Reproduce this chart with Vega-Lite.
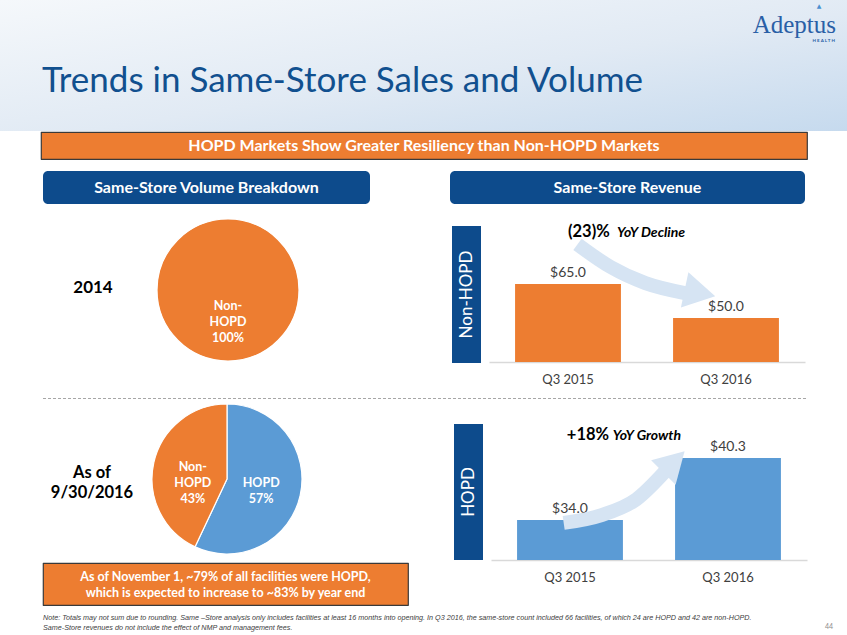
{
"$schema": "https://vega.github.io/schema/vega-lite/v6.json",
"padding": 0,
"background": "white",
"spacing": 0,
"config": {
  "view": {"stroke": null},
  "font": "Lato",
  "concat": {"spacing": 0},
  "axis": {"labelFont": "Lato", "labelFontSize": 13, "labelColor": "#404040", "domainColor": "#d9d9d9", "domainWidth": 1.5, "ticks": false, "labelPadding": 11, "grid": false}
},
"datasets": {
  "vol2014": [{"segment": "HOPD", "pct": 0, "label": ""}, {"segment": "Non-HOPD", "pct": 100, "label": "Non-\nHOPD\n100%"}],
  "vol2016": [{"segment": "HOPD", "pct": 57, "label": "HOPD\n57%"}, {"segment": "Non-HOPD", "pct": 43, "label": "Non-\nHOPD\n43%"}],
  "revNon": [{"quarter": "Q3 2015", "revenue": 65.0}, {"quarter": "Q3 2016", "revenue": 50.0}],
  "revHopd": [{"quarter": "Q3 2015", "revenue": 34.0}, {"quarter": "Q3 2016", "revenue": 40.3}],
  "arrowNon": [{"u": 0.56, "v": 82.5}, {"u": 0.77, "v": 72.5}, {"u": 0.99, "v": 65.4}, {"u": 1.24, "v": 61.0}],
  "arrowHopd": [{"u": 0.46, "v": 33.7}, {"u": 0.70, "v": 34.5}, {"u": 0.92, "v": 36.1}, {"u": 1.10, "v": 38.9}]
},
"vconcat": [
  {
    "width": 847, "height": 131,
    "data": {"values": [{}]},
    "layer": [
      {"mark": {"type": "rect", "color": {"gradient": "linear", "x1": 0, "y1": 0, "x2": 1, "y2": 1, "stops": [{"offset": 0, "color": "#f5f8fb"}, {"offset": 0.55, "color": "#e1eaf4"}, {"offset": 1, "color": "#c6daee"}]}}, "encoding": {}},
      {"mark": {"type": "text", "text": "Trends in Same-Store Sales and Volume", "x": 42, "y": 92, "align": "left", "baseline": "alphabetic", "fontSize": 35, "color": "#11508f", "font": "Lato"}},
      {"mark": {"type": "text", "text": "Adeptus", "x": 836, "y": 33, "align": "right", "baseline": "alphabetic", "font": "Liberation Serif", "fontSize": 25, "color": "#2a5fa6"}},
      {"mark": {"type": "text", "text": "H E A L T H", "x": 835, "y": 42, "align": "right", "baseline": "alphabetic", "fontSize": 4.5, "fontWeight": "bold", "color": "#2a5fa6"}},
      {"mark": {"type": "text", "text": "▲", "x": 819, "y": 8, "align": "center", "baseline": "alphabetic", "fontSize": 6, "color": "#4a8fd0", "font": "DejaVu Sans"}}
    ]
  },
  {
    "hconcat": [
      {"width": 40, "height": 27, "data": {"values": [{}]}, "mark": {"type": "point", "size": 0, "opacity": 0}, "encoding": {}},
      {"width": 766, "height": 27, "data": {"values": [{}]},
       "view": {"fill": "#ED7D31", "stroke": "#3a3a3a", "strokeWidth": 1.2, "strokeJoin": "round"},
       "mark": {"type": "text", "text": "HOPD Markets Show Greater Resiliency than Non-HOPD Markets", "align": "center", "baseline": "middle", "color": "white", "fontWeight": "bold", "fontSize": 16}}
    ],
    "spacing": 0
  },
  {"width": 847, "height": 11, "data": {"values": [{}]}, "mark": {"type": "point", "size": 0, "opacity": 0}, "encoding": {}},
  {
    "hconcat": [
      {"width": 43, "height": 33, "data": {"values": [{}]}, "mark": {"type": "point", "size": 0, "opacity": 0}, "encoding": {}},
      {"width": 327, "height": 33, "data": {"values": [{}]},
       "view": {"fill": "#0d4b8c", "cornerRadius": 5},
       "mark": {"type": "text", "text": "Same-Store Volume Breakdown", "align": "center", "baseline": "middle", "color": "white", "fontWeight": "bold", "fontSize": 16}},
      {"width": 80, "height": 33, "data": {"values": [{}]}, "mark": {"type": "point", "size": 0, "opacity": 0}, "encoding": {}},
      {"width": 355, "height": 33, "data": {"values": [{}]},
       "view": {"fill": "#0d4b8c", "cornerRadius": 5},
       "mark": {"type": "text", "text": "Same-Store Revenue", "align": "center", "baseline": "middle", "color": "white", "fontWeight": "bold", "fontSize": 16}}
    ],
    "spacing": 0
  },
  {
    "hconcat": [
      {"width": 157, "height": 193, "data": {"values": [{}]},
       "mark": {"type": "text", "text": "2014", "dx": 14.5, "dy": -12.5, "align": "center", "baseline": "middle", "fontWeight": "bold", "fontSize": 17, "color": "#000000"}},
      {
        "vconcat": [
          {"width": 142, "height": 15, "data": {"values": [{}]}, "mark": {"type": "point", "size": 0, "opacity": 0}, "encoding": {}},
          {
            "width": 142, "height": 142,
            "data": {"name": "vol2014"},
            "layer": [
              {"mark": {"type": "arc", "stroke": "white", "strokeWidth": 1.2, "strokeJoin": "round", "clip": true},
               "encoding": {
                 "theta": {"field": "pct", "type": "quantitative", "stack": true},
                 "color": {"field": "segment", "type": "nominal", "scale": {"domain": ["HOPD", "Non-HOPD"], "range": ["#5B9BD5", "#ED7D31"]}, "legend": null},
                 "order": {"field": "segment", "sort": "ascending"}
               }},
              {"mark": {"type": "text", "radius": 16, "color": "white", "fontWeight": "bold", "fontSize": 12.5, "lineBreak": "\n", "lineHeight": 16, "align": "center", "baseline": "middle"},
               "encoding": {
                 "theta": {"field": "pct", "type": "quantitative", "stack": true},
                 "detail": {"field": "segment", "type": "nominal"},
                 "order": {"field": "segment", "sort": "ascending"},
                 "text": {"field": "label", "type": "nominal"}
               }}
            ]
          },
          {"width": 142, "height": 36, "data": {"values": [{}]}, "mark": {"type": "point", "size": 0, "opacity": 0}, "encoding": {}}
        ],
        "spacing": 0
      },
      {"width": 153, "height": 1, "data": {"values": [{}]}, "mark": {"type": "point", "size": 0, "opacity": 0}, "encoding": {}},
      {
        "vconcat": [
          {"width": 29, "height": 22, "data": {"values": [{}]}, "mark": {"type": "point", "size": 0, "opacity": 0}, "encoding": {}},
          {"width": 29, "height": 137, "data": {"values": [{}]},
           "view": {"fill": "#0d4b8c"},
           "mark": {"type": "text", "text": "Non-HOPD", "angle": 270, "align": "center", "baseline": "middle", "color": "white", "fontSize": 17}}
        ],
        "spacing": 0
      },
      {"width": 8, "height": 1, "data": {"values": [{}]}, "mark": {"type": "point", "size": 0, "opacity": 0}, "encoding": {}},
      {
        "vconcat": [
          {"width": 316, "height": 15, "data": {"values": [{}]}, "mark": {"type": "point", "size": 0, "opacity": 0}, "encoding": {}},
          {
            "width": 316, "height": 143,
            "data": {"name": "revNon"},
            "resolve": {"scale": {"x": "independent"}},
            "layer": [
              {
                "encoding": {
                  "x": {"field": "quarter", "type": "nominal", "sort": null, "scale": {"paddingInner": 0.33, "paddingOuter": 0.165}, "axis": {"title": null, "labelAngle": 0}},
                  "y": {"field": "revenue", "type": "quantitative", "scale": {"domain": [30.6, 93.7], "nice": false, "zero": false}, "axis": null}
                },
                "layer": [
                  {"mark": {"type": "bar", "color": "#ED7D31"}, "encoding": {"y2": {"datum": 30.6}}},
                  {"mark": {"type": "text", "dy": -7, "baseline": "alphabetic", "align": "center", "fontSize": 14, "color": "#404040"},
                   "encoding": {"text": {"field": "revenue", "type": "quantitative", "format": "$.1f"}}}
                ]
              },
              {
                "layer": [
                  {"data": {"name": "arrowNon"},
                   "mark": {"type": "line", "interpolate": "monotone", "strokeWidth": 14, "color": "#d6e4f3", "strokeCap": "butt", "strokeJoin": "round"},
                   "encoding": {
                     "x": {"field": "u", "type": "quantitative", "scale": {"domain": [0, 2], "nice": false, "zero": false}, "axis": null},
                     "y": {"field": "v", "type": "quantitative", "scale": {"domain": [30.6, 93.7], "nice": false, "zero": false}, "axis": null}
                   }},
                  {"data": {"values": [{}]},
                   "mark": {"type": "point", "shape": "triangle-right", "filled": true, "size": 1300, "angle": 12, "color": "#d6e4f3", "opacity": 1},
                   "encoding": {
                     "x": {"datum": 1.335, "type": "quantitative", "scale": {"domain": [0, 2], "nice": false, "zero": false}, "axis": null},
                     "y": {"datum": 61.0, "type": "quantitative", "scale": {"domain": [30.6, 93.7], "nice": false, "zero": false}, "axis": null}
                   }},
                  {"data": {"values": [{}]},
                   "mark": {"type": "text", "text": "(23)%", "align": "left", "baseline": "alphabetic", "fontSize": 16.5, "fontWeight": "bold", "color": "#000000"},
                   "encoding": {
                     "x": {"datum": 0.5, "type": "quantitative", "scale": {"domain": [0, 2], "nice": false, "zero": false}, "axis": null},
                     "y": {"datum": 85.7, "type": "quantitative", "scale": {"domain": [30.6, 93.7], "nice": false, "zero": false}, "axis": null}
                   }},
                  {"data": {"values": [{}]},
                   "mark": {"type": "text", "text": "YoY Decline", "align": "left", "baseline": "alphabetic", "fontSize": 14, "fontWeight": "bold", "fontStyle": "italic", "color": "#000000"},
                   "encoding": {
                     "x": {"datum": 0.81, "type": "quantitative", "scale": {"domain": [0, 2], "nice": false, "zero": false}, "axis": null},
                     "y": {"datum": 85.7, "type": "quantitative", "scale": {"domain": [30.6, 93.7], "nice": false, "zero": false}, "axis": null}
                   }}
                ]
              }
            ]
          }
        ],
        "spacing": 0
      }
    ],
    "spacing": 0
  },
  {
    "hconcat": [
      {"width": 40, "height": 1, "data": {"values": [{}]}, "mark": {"type": "point", "size": 0, "opacity": 0}, "encoding": {}},
      {"width": 765, "height": 1, "data": {"values": [{}]},
       "mark": {"type": "rule", "color": "#a6a6a6", "strokeWidth": 1.2, "strokeDash": [3, 2]},
       "encoding": {"y": {"value": 0.5}}}
    ],
    "spacing": 0
  },
  {
    "hconcat": [
      {
        "vconcat": [
          {"width": 1, "height": 4, "data": {"values": [{}]}, "mark": {"type": "point", "size": 0, "opacity": 0}, "encoding": {}},
          {
            "hconcat": [
              {"width": 152, "height": 150, "data": {"values": [{}]},
               "mark": {"type": "text", "text": "As of\n9/30/2016", "lineBreak": "\n", "lineHeight": 20, "dx": 16, "dy": -6, "align": "center", "baseline": "middle", "fontWeight": "bold", "fontSize": 16.5, "color": "#000000"}},
              {
                "width": 150, "height": 150,
                "data": {"name": "vol2016"},
                "layer": [
                  {"mark": {"type": "arc", "stroke": "white", "strokeWidth": 1.2, "strokeJoin": "round", "clip": true},
                   "encoding": {
                     "theta": {"field": "pct", "type": "quantitative", "stack": true},
                     "color": {"field": "segment", "type": "nominal", "scale": {"domain": ["HOPD", "Non-HOPD"], "range": ["#5B9BD5", "#ED7D31"]}, "legend": null},
                     "order": {"field": "segment", "sort": "ascending"}
                   }},
                  {"mark": {"type": "text", "radius": 35, "dy": -4, "color": "white", "fontWeight": "bold", "fontSize": 12.5, "lineBreak": "\n", "lineHeight": 16, "align": "center", "baseline": "middle"},
                   "encoding": {
                     "theta": {"field": "pct", "type": "quantitative", "stack": true},
                     "detail": {"field": "segment", "type": "nominal"},
                     "order": {"field": "segment", "sort": "ascending"},
                     "text": {"field": "label", "type": "nominal"}
                   }}
                ]
              }
            ],
            "spacing": 0
          },
          {"width": 1, "height": 8, "data": {"values": [{}]}, "mark": {"type": "point", "size": 0, "opacity": 0}, "encoding": {}},
          {
            "hconcat": [
              {"width": 42, "height": 42, "data": {"values": [{}]}, "mark": {"type": "point", "size": 0, "opacity": 0}, "encoding": {}},
              {"width": 365, "height": 42, "data": {"values": [{}]},
               "view": {"fill": "#ED7D31", "stroke": "#3a3a3a", "strokeWidth": 1.2, "strokeJoin": "round"},
               "mark": {"type": "text", "text": "As of November 1, ~79% of all facilities were HOPD,\nwhich is expected to increase to ~83% by year end", "lineBreak": "\n", "lineHeight": 16, "dy": -7, "align": "center", "baseline": "middle", "color": "white", "fontWeight": "bold", "fontSize": 12.5}}
            ],
            "spacing": 0
          }
        ],
        "spacing": 0
      },
      {"width": 45, "height": 1, "data": {"values": [{}]}, "mark": {"type": "point", "size": 0, "opacity": 0}, "encoding": {}},
      {
        "vconcat": [
          {"width": 29, "height": 24, "data": {"values": [{}]}, "mark": {"type": "point", "size": 0, "opacity": 0}, "encoding": {}},
          {"width": 29, "height": 136, "data": {"values": [{}]},
           "view": {"fill": "#0d4b8c"},
           "mark": {"type": "text", "text": "HOPD", "angle": 270, "align": "center", "baseline": "middle", "color": "white", "fontSize": 17}}
        ],
        "spacing": 0
      },
      {"width": 8, "height": 1, "data": {"values": [{}]}, "mark": {"type": "point", "size": 0, "opacity": 0}, "encoding": {}},
      {
        "vconcat": [
          {"width": 316, "height": 17, "data": {"values": [{}]}, "mark": {"type": "point", "size": 0, "opacity": 0}, "encoding": {}},
          {
            "width": 316, "height": 143,
            "data": {"name": "revHopd"},
            "resolve": {"scale": {"x": "independent"}},
            "layer": [
              {
                "encoding": {
                  "x": {"field": "quarter", "type": "nominal", "sort": null, "scale": {"paddingInner": 0.33, "paddingOuter": 0.165}, "axis": {"title": null, "labelAngle": 0}},
                  "y": {"field": "revenue", "type": "quantitative", "scale": {"domain": [29.93, 44.46], "nice": false, "zero": false}, "axis": null}
                },
                "layer": [
                  {"mark": {"type": "bar", "color": "#5B9BD5"}, "encoding": {"y2": {"datum": 29.93}}},
                  {"mark": {"type": "text", "dy": -7, "baseline": "alphabetic", "align": "center", "fontSize": 14, "color": "#404040"},
                   "encoding": {"text": {"field": "revenue", "type": "quantitative", "format": "$.1f"}}}
                ]
              },
              {
                "layer": [
                  {"data": {"name": "arrowHopd"},
                   "mark": {"type": "line", "interpolate": "monotone", "strokeWidth": 14, "color": "#d6e4f3", "strokeCap": "butt", "strokeJoin": "round"},
                   "encoding": {
                     "x": {"field": "u", "type": "quantitative", "scale": {"domain": [0, 2], "nice": false, "zero": false}, "axis": null},
                     "y": {"field": "v", "type": "quantitative", "scale": {"domain": [29.93, 44.46], "nice": false, "zero": false}, "axis": null}
                   }},
                  {"data": {"values": [{}]},
                   "mark": {"type": "point", "shape": "triangle-up", "filled": true, "size": 1200, "angle": 45, "color": "#d6e4f3", "opacity": 1},
                   "encoding": {
                     "x": {"datum": 1.158, "type": "quantitative", "scale": {"domain": [0, 2], "nice": false, "zero": false}, "axis": null},
                     "y": {"datum": 39.9, "type": "quantitative", "scale": {"domain": [29.93, 44.46], "nice": false, "zero": false}, "axis": null}
                   }},
                  {"data": {"values": [{}]},
                   "mark": {"type": "text", "text": "+18%", "align": "left", "baseline": "alphabetic", "fontSize": 16.5, "fontWeight": "bold", "color": "#000000"},
                   "encoding": {
                     "x": {"datum": 0.48, "type": "quantitative", "scale": {"domain": [0, 2], "nice": false, "zero": false}, "axis": null},
                     "y": {"datum": 42.1, "type": "quantitative", "scale": {"domain": [29.93, 44.46], "nice": false, "zero": false}, "axis": null}
                   }},
                  {"data": {"values": [{}]},
                   "mark": {"type": "text", "text": "YoY Growth", "align": "left", "baseline": "alphabetic", "fontSize": 14, "fontWeight": "bold", "fontStyle": "italic", "color": "#000000"},
                   "encoding": {
                     "x": {"datum": 0.77, "type": "quantitative", "scale": {"domain": [0, 2], "nice": false, "zero": false}, "axis": null},
                     "y": {"datum": 42.1, "type": "quantitative", "scale": {"domain": [29.93, 44.46], "nice": false, "zero": false}, "axis": null}
                   }}
                ]
              }
            ]
          }
        ],
        "spacing": 0
      }
    ],
    "spacing": 0
  },
  {
    "width": 847, "height": 30,
    "data": {"values": [{}]},
    "layer": [
      {"mark": {"type": "text", "text": "Note: Totals may not sum due to rounding. Same –Store analysis only includes facilities at least 16 months into opening. In Q3 2016, the same-store count included 66 facilities, of which 24 are HOPD and 42 are non-HOPD.", "x": 43, "y": 12, "align": "left", "baseline": "middle", "font": "Liberation Sans", "fontStyle": "italic", "fontSize": 7.2, "color": "#404040"}},
      {"mark": {"type": "text", "text": "Same-Store revenues do not include the effect of NMP and management fees.", "x": 43, "y": 22, "align": "left", "baseline": "middle", "font": "Liberation Sans", "fontStyle": "italic", "fontSize": 7.2, "color": "#404040"}},
      {"mark": {"type": "text", "text": "44", "x": 829, "y": 21, "align": "center", "baseline": "middle", "fontSize": 7, "color": "#8c8c8c"}}
    ]
  }
]
}
